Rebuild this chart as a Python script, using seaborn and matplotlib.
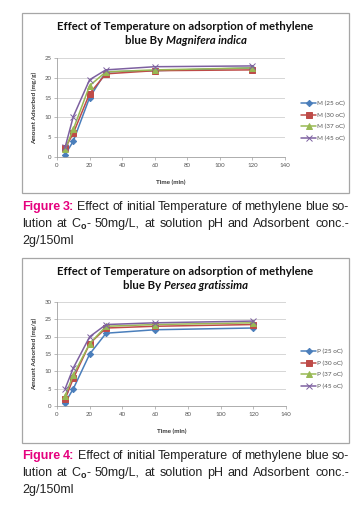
# --------------------------------------------------
# Effect of temperature on methylene blue adsorption
# two Excel-style charts with their figure captions
# --------------------------------------------------

import pandas as pd
import matplotlib
matplotlib.use("Agg")
import matplotlib.pyplot as plt
import seaborn as sns
from matplotlib.patches import Rectangle

# --------------------------------------------------
# Data
# --------------------------------------------------
time_min = [5, 10, 20, 30, 60, 120]
temps = ["25 oC", "30 oC", "37 oC", "45 oC"]

# Magnifera indica (Figure 3)
mango_25 = [0.6, 4.0, 15.0, 21.5, 21.8, 22.5]
mango_30 = [2.2, 6.0, 16.0, 21.0, 21.8, 22.0]
mango_37 = [2.0, 7.0, 18.0, 21.5, 22.0, 22.5]
mango_45 = [2.5, 10.2, 19.5, 22.0, 22.8, 23.0]

# Persea gratissima (Figure 4)
avocado_25 = [1.0, 5.0, 15.0, 21.0, 22.0, 22.5]
avocado_30 = [2.0, 8.0, 18.0, 22.5, 23.0, 23.5]
avocado_37 = [3.0, 9.0, 18.0, 23.0, 23.5, 24.0]
avocado_45 = [5.0, 11.0, 20.0, 23.5, 24.0, 24.5]

colors = ["#4a7ebb", "#be4b48", "#98b954", "#7d60a0"]
markers = ["D", "s", "^", "x"]
msizes = [3.2, 4.6, 4.2, 4.0]

W, H = 361, 509
sns.set_style("white")
plt.rcParams["font.family"] = ["Lato", "DejaVu Sans"]

fig = plt.figure(figsize=(W / 100, H / 100), dpi=100)
fig.patch.set_facecolor("white")
renderer = fig.canvas.get_renderer()


def px(x, y):
    # pixel (from top-left) -> figure fraction
    return x / W, 1 - y / H


def width_of(text, **kw):
    t = fig.text(0, 0, text, **kw)
    w = t.get_window_extent(renderer).width
    t.remove()
    return w


def place_words(words, x0, x1, y, justify=True, center=False, gap=None):
    # words: list of words, each a list of (text, props, dy_px)
    widths = [[width_of(t, **kw) for t, kw, dy in wd] for wd in words]
    totals = [sum(w) for w in widths]
    if gap is None:
        gap = (x1 - x0 - sum(totals)) / max(len(words) - 1, 1) if justify else 4
    x = x0
    if center:
        x = (x0 + x1) / 2 - (sum(totals) + gap * (len(words) - 1)) / 2
    for wd, ws in zip(words, widths):
        for (t, kw, dy), w in zip(wd, ws):
            fig.text(*px(x, y + dy), t, va="baseline", ha="left", **kw)
            x += w
        x += gap


def draw_chart(box, ax_rect, values, prefix, ymax, species, legend_y):
    # grey frame round the whole chart
    bx0, by0, bx1, by1 = box
    fig.add_artist(Rectangle(px(bx0, by1), (bx1 - bx0) / W, (by1 - by0) / H,
                             transform=fig.transFigure, fill=False,
                             edgecolor="#a6a6a6", linewidth=0.9))

    x0, y0, x1, y1 = ax_rect
    ax = fig.add_axes([x0 / W, 1 - y1 / H, (x1 - x0) / W, (y1 - y0) / H])

    for temp, vals, c, m, ms in zip(temps, values, colors, markers, msizes):
        df = pd.DataFrame({"time": time_min, "amount": vals})
        sns.lineplot(data=df, x="time", y="amount", color=c, marker=m,
                     markersize=ms, linewidth=1.1, markeredgewidth=0.7,
                     markeredgecolor=c, label=f"{prefix} ({temp})", ax=ax)

    ax.set_xlim(0, 140)
    ax.set_ylim(0, ymax)
    ax.set_xticks(range(0, 141, 20))
    ax.set_yticks(range(0, ymax + 1, 5))
    ax.yaxis.grid(True, color="#d0d0d0", linewidth=0.6)
    ax.set_axisbelow(True)
    for s in ["top", "right"]:
        ax.spines[s].set_visible(False)
    for s in ["left", "bottom"]:
        ax.spines[s].set_color("#a0a0a0")
        ax.spines[s].set_linewidth(0.6)
    ax.tick_params(axis="both", labelsize=4.4, colors="#a0a0a0",
                   labelcolor="#555555", length=2, width=0.5, pad=2,
                   direction="out", bottom=True, left=True)
    ax.set_xlabel("Time (min)", fontsize=4.6, fontweight="bold",
                  color="#333333", labelpad=9)
    ax.set_ylabel("Amount Adsorbed (mg/g)", fontsize=4.6, fontweight="bold",
                  color="#333333", labelpad=5)

    ax.legend(frameon=False, loc="center left",
              bbox_to_anchor=px(298, legend_y), bbox_transform=fig.transFigure,
              fontsize=4.6, handlelength=2.3, handletextpad=0.2,
              labelspacing=0.95, borderpad=0, labelcolor="#555555")

    # title, two centred lines
    bold = dict(fontsize=8.2, fontweight="bold", color="#111111")
    place_words([[("Effect of Temperature on adsorption of methylene", bold, 0)]],
                bx0, bx1, by0 + 17, center=True)
    sp = width_of("a a", **bold) - width_of("aa", **bold)
    ital = dict(bold, fontstyle="italic")
    place_words([[("blue By", bold, 0)], [(species, ital, 0)]],
                bx0, bx1, by0 + 31, center=True, gap=sp)
    return ax


def caption(num, y):
    cap = dict(fontsize=9.0, color="#222222", family=["Liberation Sans"])
    mag = dict(cap, color="#e5007e", fontweight="bold")
    sub = dict(cap, fontsize=6.4, fontweight="bold")
    line1 = ["Effect", "of", "initial", "Temperature", "of", "methylene", "blue", "so-"]
    line2 = ["lution", "at", None, "50mg/L,", "at", "solution", "pH", "and",
             "Adsorbent", "conc.-"]
    words = [[("Figure", mag, 0)], [(f"{num}:", mag, 0)]]
    words += [[(w, cap, 0)] for w in line1]
    place_words(words, 22, 349, y)
    words = []
    for w in line2:
        if w is None:
            words.append([("C", cap, 0), ("o", sub, 2.5), ("-", cap, 0)])
        else:
            words.append([(w, cap, 0)])
    place_words(words, 22, 349, y + 17)
    place_words([[("2g/150ml", cap, 0)]], 22, 349, y + 34, justify=False)


draw_chart((22, 13, 349, 193), (57, 58, 285, 157),
           [mango_25, mango_30, mango_37, mango_45], "M", 25,
           "Magnifera indica", 121)
caption(3, 210)

draw_chart((22, 258, 349, 443), (57, 302, 286, 406),
           [avocado_25, avocado_30, avocado_37, avocado_45], "P", 30,
           "Persea gratissima", 369)
caption(4, 459)

fig.savefig("out.png", dpi=100, facecolor="white")
